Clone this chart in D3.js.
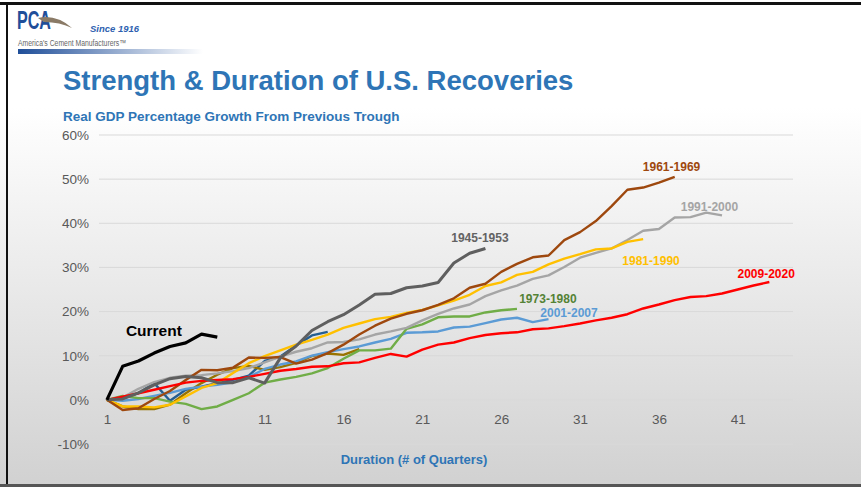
<!DOCTYPE html>
<html>
<head>
<meta charset="utf-8">
<script src="https://cdn.jsdelivr.net/npm/d3@7"></script>
<style>
  body { margin: 0; overflow: hidden; }
  text { font-family: Arial, "Liberation Sans", sans-serif; }
</style>
</head>
<body>
<div id="chart"></div>
<script>
// quarter-over-trough real GDP growth, %
const current = [0, 7.6, 8.8, 10.6, 12.1, 12.9, 14.9, 14.2];
const r1945 = [0, 0.2, 1.6, 3.4, 4.8, 5.3, 5.0, 3.9, 3.9, 5.0, 3.8, 9.5, 12.2, 15.7, 17.7,
  19.3, 21.5, 23.9, 24.1, 25.4, 25.8, 26.6, 31.0, 33.2, 34.3];
const r1961 = [0, -2.3, -1.9, 0.2, 2.0, 4.5, 6.8, 6.7, 7.3, 9.6, 9.5, 9.7, 8.2, 9.1, 10.6,
  12.5, 14.8, 16.8, 18.4, 19.5, 20.3, 21.5, 23.0, 25.4, 26.3, 29.0, 30.8, 32.3, 32.7, 36.2,
  38.0, 40.5, 43.9, 47.6, 48.1, 49.2, 50.5];
const r1991 = [0, 0.5, 2.5, 4.0, 5.0, 5.5, 5.6, 6.0, 6.5, 7.2, 8.5, 9.8, 10.9, 11.7, 13.0,
  13.1, 13.7, 14.8, 15.5, 16.3, 18.0, 19.5, 20.7, 21.6, 23.5, 24.8, 25.9, 27.4, 28.2, 30.1,
  32.2, 33.3, 34.3, 36.2, 38.3, 38.7, 41.3, 41.4, 42.4, 41.8];
const r1981 = [0, -1.5, -1.5, -1.7, -1.1, 0.8, 2.7, 3.8, 6.1, 8.3, 9.9, 11.2, 12.5, 13.6, 14.8,
  16.3, 17.3, 18.3, 18.8, 19.7, 20.4, 21.4, 22.5, 23.8, 25.8, 26.6, 28.3, 29.0, 30.7, 32.0,
  33.0, 34.1, 34.3, 35.8, 36.4];
const r2009 = [0, 0.7, 1.5, 2.3, 3.1, 3.9, 4.3, 4.5, 4.7, 5.2, 5.9, 6.6, 7.0, 7.5, 7.6,
  8.3, 8.5, 9.5, 10.4, 9.8, 11.4, 12.5, 13.0, 14.0, 14.7, 15.1, 15.3, 16.0, 16.2, 16.7,
  17.3, 18.0, 18.6, 19.4, 20.7, 21.6, 22.6, 23.3, 23.5, 24.1, 25.0, 25.9, 26.7];
const r1973 = [0, 0.9, 0.4, 0.4, -0.4, -0.9, -2.1, -1.5, 0, 1.5, 3.9, 4.6, 5.2, 6.0, 7.2,
  9.3, 11.2, 11.2, 11.6, 16.1, 17.1, 18.7, 18.9, 18.9, 19.8, 20.3, 20.6];
const r2001 = [0, -0.2, 0.2, 0.9, 1.6, 2.5, 3.0, 3.4, 4.0, 5.2, 7.0, 8.0, 8.7, 10.0, 10.8,
  11.5, 12.1, 13.0, 13.8, 15.2, 15.3, 15.5, 16.4, 16.6, 17.4, 18.2, 18.6, 17.6, 18.3];
const rOlive = [0, -1.5, -2.1, -2.1, -1.1, 1.5, 3.8, 5.7, 7.2, 7.7, 6.8, 7.4, 8.4, 9.9, 10.5,
  10.2, 11.5];
const rNavy = [0, 0.3, 1.5, 3.8, -0.2, 2.3, 3.0, 3.8, 4.5, 5.5, 8.8, 9.8, 12.3, 14.6, 15.4];

const yTicks = [-10, 0, 10, 20, 30, 40, 50, 60];
const xTicks = [1, 6, 11, 16, 21, 26, 31, 36, 41];

const series = [
  { name: "navy", values: rNavy, color: "#255e91", w: 2.4 },
  { name: "olive", values: rOlive, color: "#997300", w: 2.4 },
  { name: "2001-2007", values: r2001, color: "#5b9bd5", w: 2.4 },
  { name: "1973-1980", values: r1973, color: "#70ad47", w: 2.4 },
  { name: "1991-2000", values: r1991, color: "#a5a5a5", w: 2.4 },
  { name: "1981-1990", values: r1981, color: "#ffc000", w: 2.4 },
  { name: "1961-1969", values: r1961, color: "#9e480e", w: 2.4 },
  { name: "2009-2020", values: r2009, color: "#ff0000", w: 2.4 },
  { name: "1945-1953", values: r1945, color: "#5f5f5f", w: 3 },
  { name: "Current", values: current, color: "#000000", w: 3.2 }
];

// label anchors in data units (quarter, %)
const labels = [
  { text: "1961-1969", q: 36.8, v: 52.8, color: "#9e480e" },
  { text: "1991-2000", q: 39.2, v: 43.7, color: "#a5a5a5" },
  { text: "1945-1953", q: 24.65, v: 36.7, color: "#636363" },
  { text: "1981-1990", q: 35.5, v: 31.5, color: "#ffc000" },
  { text: "2009-2020", q: 42.8, v: 28.5, color: "#ff0000" },
  { text: "1973-1980", q: 28.96, v: 22.9, color: "#548235" },
  { text: "2001-2007", q: 30.3, v: 19.7, color: "#5b9bd5" },
  { text: "Current", q: 3.98, v: 15.6, color: "#000000", big: true }
];

const W = 861, H = 487;

const svg = d3.select("#chart").append("svg")
  .attr("width", W).attr("height", H);

const defs = svg.append("defs");
const bg = defs.append("linearGradient").attr("id", "bg")
  .attr("x1", 0).attr("y1", 0).attr("x2", 0).attr("y2", 1);
bg.append("stop").attr("offset", "0%").attr("stop-color", "#ffffff");
bg.append("stop").attr("offset", "22%").attr("stop-color", "#ffffff");
bg.append("stop").attr("offset", "100%").attr("stop-color", "#d1d1d1");

const bar = defs.append("linearGradient").attr("id", "bar");
bar.append("stop").attr("offset", "0%").attr("stop-color", "#1f4e99");
bar.append("stop").attr("offset", "100%").attr("stop-color", "#ffffff");

svg.append("rect").attr("width", W).attr("height", H).attr("fill", "url(#bg)");

// slide frame
svg.append("rect").attr("x", 0).attr("y", 2).attr("width", W).attr("height", 3).attr("fill", "#111");
svg.append("rect").attr("x", 6).attr("y", 2).attr("width", 2).attr("height", H).attr("fill", "#111");
svg.append("rect").attr("x", 0).attr("y", 484).attr("width", W).attr("height", 3).attr("fill", "#555");

// logo
const logo = svg.append("g");
logo.append("text").attr("x", 17).attr("y", 29)
  .style("font-size", "25px").style("font-weight", "bold")
  .attr("fill", "#1f4e99").attr("textLength", 34).attr("lengthAdjust", "spacingAndGlyphs")
  .text("PCA");
logo.append("path").attr("d", "M38,18 Q56,14 72,28 Q60,22 44,22 Z").attr("fill", "#8a7a66");
logo.append("text").attr("x", 90).attr("y", 32)
  .style("font-size", "9.5px").style("font-style", "italic").style("font-weight", "bold")
  .attr("fill", "#2e5fb0").text("Since 1916");
logo.append("text").attr("x", 18).attr("y", 46)
  .style("font-size", "8.5px").attr("fill", "#666")
  .attr("textLength", 108).attr("lengthAdjust", "spacingAndGlyphs")
  .text("America's Cement Manufacturers\u2122");
logo.append("rect").attr("x", 18).attr("y", 49).attr("width", 185).attr("height", 5)
  .attr("fill", "url(#bar)");

// titles
svg.append("text").attr("x", 63).attr("y", 90)
  .style("font-size", "27.5px").style("font-weight", "bold").attr("fill", "#2e75b6")
  .text("Strength & Duration of U.S. Recoveries");
svg.append("text").attr("x", 63).attr("y", 121)
  .style("font-size", "13.5px").style("font-weight", "bold").attr("fill", "#2e75b6")
  .text("Real GDP Percentage Growth From Previous Trough");

const x = d3.scaleLinear().domain([0.5, 44.5]).range([99, 793]);
const y = d3.scaleLinear().domain([-10, 60]).range([444, 135]);

// gridlines
svg.append("g")
  .selectAll("line").data(yTicks).join("line")
  .attr("x1", x(0.5)).attr("x2", x(44.5))
  .attr("y1", (d) => y(d)).attr("y2", (d) => y(d))
  .attr("stroke", "#d9d9d9").attr("stroke-width", 1);

const yAxisG = svg.append("g").attr("transform", "translate(89,0)")
  .call(d3.axisLeft(y).tickValues(yTicks).tickFormat((d) => d + "%").tickSize(0).tickPadding(0));
yAxisG.select(".domain").remove();
yAxisG.selectAll("text").style("font-size", "13.5px").attr("fill", "#595959")
  .style("font-family", "Arial, 'Liberation Sans', sans-serif");

const xAxisG = svg.append("g").attr("transform", "translate(0,414)")
  .call(d3.axisBottom(x).tickValues(xTicks).tickFormat(d3.format("d")).tickSize(0).tickPadding(0));
xAxisG.select(".domain").remove();
xAxisG.selectAll("text").style("font-size", "13.5px").attr("fill", "#595959")
  .style("font-family", "Arial, 'Liberation Sans', sans-serif");

svg.append("text").attr("x", 414).attr("y", 464).attr("text-anchor", "middle")
  .style("font-size", "13px").style("font-weight", "bold")
  .style("font-family", "'Liberation Sans Narrow', 'Arial Narrow', Arial, sans-serif")
  .attr("fill", "#2e75b6")
  .text("Duration (# of Quarters)");

// lines
const line = d3.line()
  .x((d, i) => x(i + 1))
  .y((d) => y(d));

svg.append("g")
  .selectAll("path").data(series).join("path")
  .attr("d", (d) => line(d.values))
  .attr("fill", "none")
  .attr("stroke", (d) => d.color)
  .attr("stroke-width", (d) => d.w)
  .attr("stroke-linejoin", "round");

// series labels
svg.append("g")
  .selectAll("text").data(labels).join("text")
  .attr("x", (d) => x(d.q)).attr("y", (d) => y(d.v))
  .attr("text-anchor", "middle").attr("dominant-baseline", "central")
  .style("font-size", (d) => (d.big ? "15.5px" : "12px"))
  .style("font-weight", "bold")
  .attr("fill", (d) => d.color)
  .text((d) => d.text);
</script>
</body>
</html>
